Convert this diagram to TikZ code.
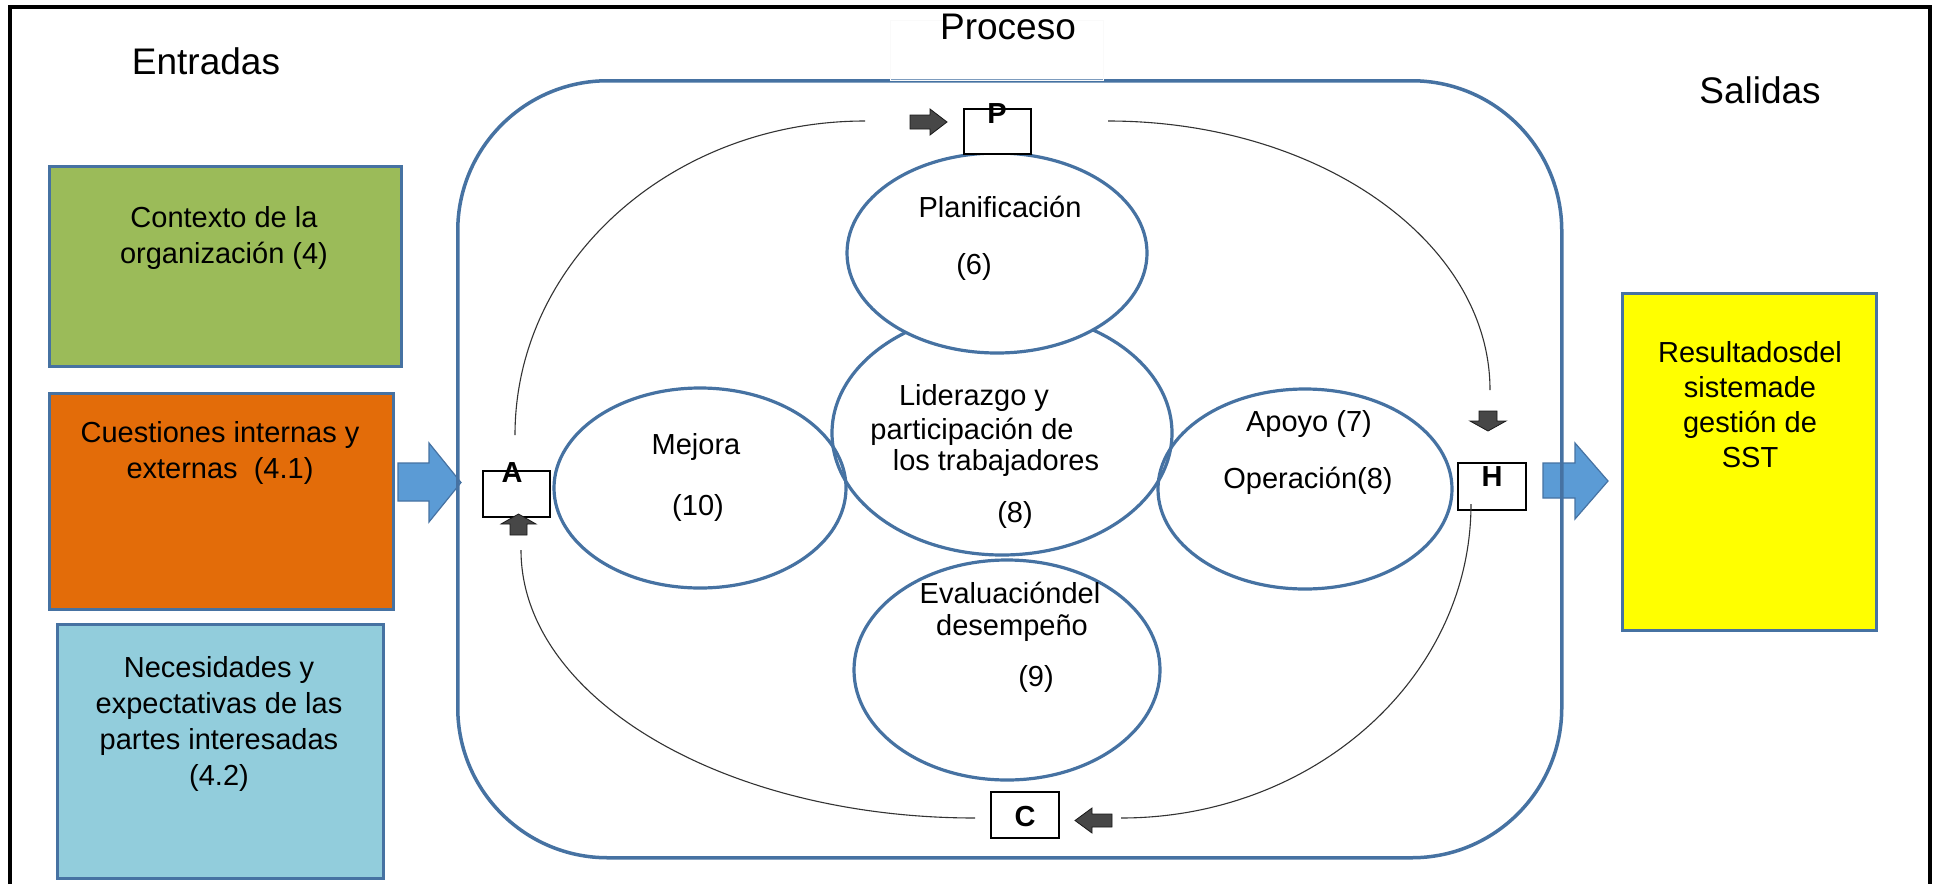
\documentclass[tikz,border=0pt]{standalone}
\usepackage{fontspec}
\setmainfont{Liberation Sans}
\usetikzlibrary{shapes.geometric,calc}
\definecolor{sblue}{RGB}{70,114,162}
\definecolor{arrblue}{RGB}{91,155,213}
\definecolor{cgreen}{RGB}{155,187,89}
\definecolor{corange}{RGB}{227,108,9}
\definecolor{clblue}{RGB}{146,205,220}
\definecolor{cyellow}{RGB}{255,255,0}
\newcommand{\bodyfont}{\fontsize{14.5}{18}\selectfont}
\newcommand{\headfont}{\fontsize{18.5}{22}\selectfont}
\newcommand{\pdcafont}{\fontsize{14.5}{16}\selectfont\bfseries}
\begin{document}
\begin{tikzpicture}[x=0.5pt,y=-0.5pt,
  inbox/.style={draw=sblue, line width=1.5pt, rectangle, inner sep=0pt, anchor=north west},
  txt/.style={font=\bodyfont, align=center, inner sep=0pt},
  head/.style={font=\headfont, inner sep=0pt},
  oval/.style={ellipse, draw=sblue, line width=1.6pt, inner sep=0pt},
  pdca/.style={draw=black, line width=1pt, fill=white, rectangle, inner sep=0pt, anchor=north west},
  letter/.style={font=\pdcafont, inner sep=0pt},
  cycle line/.style={draw=black!80, line width=0.55pt},
  darkarrow/.style={fill=black!72, draw=black!90, line width=0.4pt, line join=miter},
  bluearrow/.style={fill=arrblue, draw=sblue, line width=0.6pt}
]
\useasboundingbox (0,0) rectangle (1938,884);
\fill[white] (0,0) rectangle (1938,884);

% outer frame
\draw[line width=2pt] (10,884) -- (10,6.5) -- (1930,6.5) -- (1930,884);

% headings
\node[head] (entradas) at (206,61) {Entradas};
\node[head] (salidas) at (1760,90) {Salidas};

% input boxes
\node[inbox, fill=cgreen, minimum width=176pt, minimum height=100pt] (ctx) at (48,165) {};
\node[txt] (ctxt) at (224,238) {Contexto de la\\organización (4)};
\node[inbox, fill=corange, minimum width=172pt, minimum height=108pt] (cues) at (48,392) {};
\node[txt] (cuest) at (220,453) {Cuestiones internas y\\externas\ \ (4.1)};
\node[inbox, fill=clblue, minimum width=163pt, minimum height=127pt] (nec) at (56,623) {};
\node[txt] (nect) at (219,724) {Necesidades y\\expectativas de las\\partes interesadas\\(4.2)};

% blue arrows
\draw[bluearrow] (398,463) -- (429,463) -- (429,443) -- (461,482.5) -- (429,522) -- (429,501) -- (398,501) -- cycle;
\draw[bluearrow] (1543,463) -- (1575,463) -- (1575,443) -- (1608,481) -- (1575,519) -- (1575,498) -- (1543,498) -- cycle;

% process frame
\node[draw=sblue, line width=1.75pt, rounded corners=75pt, rectangle, anchor=north west,
      minimum width=552pt, minimum height=388.5pt, inner sep=0pt] (proc) at (456,79) {};
\node[fill=white, fill opacity=0.3, draw=black!2, line width=0.4pt, rectangle, anchor=north west,
      minimum width=106.5pt, minimum height=30pt, inner sep=0pt] (plabbox) at (890,20) {};
\node[head] (proceso) at (1008,27) {Proceso};

% output box
\node[inbox, fill=cyellow, minimum width=127pt, minimum height=168.5pt] (res) at (1621,292) {};
\node[txt, font=\fontsize{14.5}{17.5}\selectfont] (rest) at (1750,405) {Resultadosdel\\sistemade\\gestión de\\SST};

% ellipses
\node[oval, minimum width=170pt, minimum height=122pt] (lid) at (1002,433) {};
\node[oval, fill=white, minimum width=150pt, minimum height=100pt] (plan) at (997,253) {};
\node[oval, minimum width=146pt, minimum height=100pt] (mej) at (700,488) {};
\node[oval, minimum width=147pt, minimum height=100pt] (apo) at (1305,489) {};
\node[oval, minimum width=153pt, minimum height=110pt] (eva) at (1007,670) {};

% ellipse texts
\node[txt] (plant) at (1000,207) {Planificación};
\node[txt] (plann) at (974,267) {(6)};
\node[txt] (lid1) at (974,398) {Liderazgo y};
\node[txt] (lid2) at (972,432) {participación de};
\node[txt] (lid3) at (996,463) {los trabajadores};
\node[txt] (lidn) at (1015,515) {(8)};
\node[txt] (mejt) at (696,447) {Mejora};
\node[txt] (mejn) at (698,508) {(10)};
\node[txt] (apo1) at (1309,424) {Apoyo (7)};
\node[txt] (apo2) at (1308,481) {Operación(8)};
\node[txt] (eva1) at (1010,593) {Evaluacióndel};
\node[txt] (eva2) at (1012,628) {desempeño};
\node[txt] (evan) at (1036,679) {(9)};

% PDCA boxes
\node[pdca, minimum width=33.5pt, minimum height=22.5pt] (P) at (963,108) {};
\node[pdca, minimum width=33.5pt, minimum height=23pt] (A) at (482,470) {};
\node[pdca, minimum width=34pt, minimum height=23.5pt] (H) at (1457,462) {};
\node[pdca, minimum width=34pt, minimum height=23pt] (C) at (990,791) {};
\node[letter] (Pl) at (997,114) {P};
\node[letter] (Al) at (512,473) {A};
\node[letter] (Hl) at (1492,477) {H};
\node[letter] (Cl) at (1025,817) {C};

% dark block arrows
\draw[darkarrow] (910,115) -- (930,115) -- (930,109) -- (947,122) -- (930,135) -- (930,129) -- (910,129) -- cycle;
\draw[darkarrow] (510,535) -- (510,524) -- (501,524) -- (518.5,514) -- (536,524) -- (527,524) -- (527,535) -- cycle;
\draw[darkarrow] (1479,411) -- (1497,411) -- (1497,421) -- (1506,421) -- (1488,431) -- (1470,421) -- (1479,421) -- cycle;
\draw[darkarrow] (1112,814) -- (1092,814) -- (1092,808) -- (1075,820.5) -- (1092,833) -- (1092,827) -- (1112,827) -- cycle;

% cycle curves
\coordinate (tlS) at (865,121); \coordinate (tlE) at (515,435);
\coordinate (trS) at (1108,121); \coordinate (trE) at (1490,390);
\coordinate (brS) at (1471,504); \coordinate (brE) at (1121,818);
\coordinate (blS) at (975,818); \coordinate (blE) at (521,550);
\draw[cycle line] (tlS) .. controls ($(tlS)!0.5523!(tlS -| tlE)$) and ($(tlE)!0.5523!(tlS -| tlE)$) .. (tlE);
\draw[cycle line] (trS) .. controls ($(trS)!0.5523!(trS -| trE)$) and ($(trE)!0.5523!(trS -| trE)$) .. (trE);
\draw[cycle line] (brS) .. controls ($(brS)!0.5523!(brS |- brE)$) and ($(brE)!0.5523!(brS |- brE)$) .. (brE);
\draw[cycle line] (blS) .. controls ($(blS)!0.5523!(blS -| blE)$) and ($(blE)!0.5523!(blS -| blE)$) .. (blE);
\end{tikzpicture}
\end{document}
